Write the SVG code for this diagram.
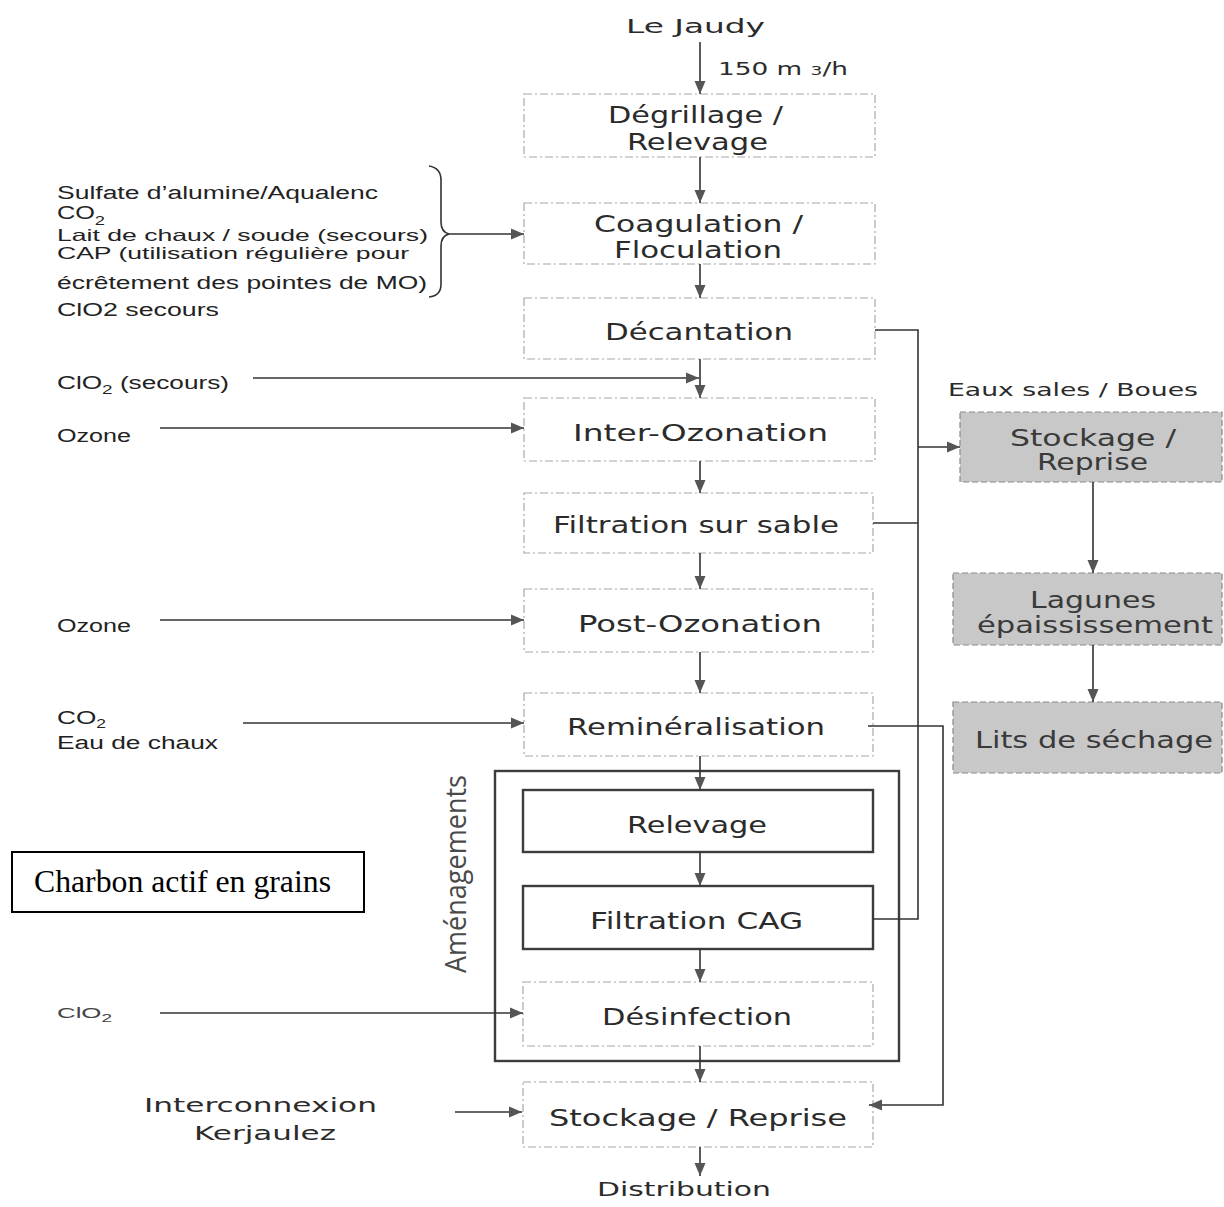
<svg xmlns="http://www.w3.org/2000/svg" width="1224" height="1207" viewBox="0 0 1224 1207">
<style>
.bx{font-family:"DejaVu Sans",Verdana,sans-serif;font-size:23px;fill:#2b2b2b}
.sm{font-family:"DejaVu Sans",Verdana,sans-serif;font-size:20px;fill:#2b2b2b}
.lt{font-family:"Liberation Sans",Arial,sans-serif;font-size:18px;fill:#222}
.dot{fill:#fff;stroke:#a8a8a8;stroke-width:1.2;stroke-dasharray:8 3 2 3}
.solid{fill:none;stroke:#3c3c3c;stroke-width:2.4}
.grey{fill:#c8c8c8;stroke:#8a8a8a;stroke-width:1.2;stroke-dasharray:6 3}
.gt{font-family:"DejaVu Sans",Verdana,sans-serif;font-size:23px;fill:#3a3a3a}
.ln{fill:none;stroke:#333;stroke-width:1.6}
</style>
<defs>
<marker id="ah" viewBox="0 0 13 12" refX="13" refY="6" markerWidth="13" markerHeight="12" markerUnits="userSpaceOnUse" orient="auto">
<path d="M0,0.5 L13,6 L0,11.5 Z" fill="#555"/>
</marker>
</defs>
<rect width="1224" height="1207" fill="#fff"/>

<g id="title">
<text class="sm" x="626" y="33" textLength="139" lengthAdjust="spacingAndGlyphs">Le Jaudy</text>
<text x="718" y="75" style="font-family:'DejaVu Sans',Verdana,sans-serif;font-size:17px;fill:#2b2b2b" textLength="130" lengthAdjust="spacingAndGlyphs">150 m <tspan font-size="12">3</tspan>/h</text>
</g>

<g id="degrillage">
<rect class="dot" x="524" y="94" width="351" height="63"/>
<text class="bx" x="608" y="123" textLength="175" lengthAdjust="spacingAndGlyphs">Dégrillage /</text>
<text class="bx" x="627" y="150" textLength="141" lengthAdjust="spacingAndGlyphs">Relevage</text>
</g>

<g id="coagulation">
<rect class="dot" x="524" y="203" width="351" height="61"/>
<text class="bx" x="594" y="232" textLength="209" lengthAdjust="spacingAndGlyphs">Coagulation /</text>
<text class="bx" x="614" y="258" textLength="168" lengthAdjust="spacingAndGlyphs">Floculation</text>
</g>

<g id="decantation">
<rect class="dot" x="524" y="298" width="351" height="61"/>
<text class="bx" x="605" y="340" textLength="188" lengthAdjust="spacingAndGlyphs">Décantation</text>
</g>

<g id="inter-ozonation">
<rect class="dot" x="524" y="398" width="351" height="63"/>
<text class="bx" x="573" y="441" textLength="255" lengthAdjust="spacingAndGlyphs">Inter-Ozonation</text>
</g>

<g id="filtration-sable">
<rect class="dot" x="524" y="493" width="349" height="60"/>
<text class="bx" x="553" y="533" textLength="286" lengthAdjust="spacingAndGlyphs">Filtration sur sable</text>
</g>

<g id="post-ozonation">
<rect class="dot" x="524" y="589" width="349" height="63"/>
<text class="bx" x="578" y="632" textLength="244" lengthAdjust="spacingAndGlyphs">Post-Ozonation</text>
</g>

<g id="remineralisation">
<rect class="dot" x="524" y="693" width="349" height="63"/>
<text class="bx" x="567" y="735" textLength="258" lengthAdjust="spacingAndGlyphs">Reminéralisation</text>
</g>

<g id="amenagements">
<rect class="solid" x="495" y="771" width="404" height="290"/>
<text transform="translate(466,874) rotate(-90)" x="0" y="0" text-anchor="middle" style="font-family:'Open Sans','Noto Sans',sans-serif;font-size:30px;fill:#4a4a4a" textLength="198" lengthAdjust="spacingAndGlyphs">Aménagements</text>
</g>

<g id="relevage">
<rect class="solid" x="523" y="790" width="350" height="62" fill="#fff"/>
<text class="bx" x="627" y="833" textLength="140" lengthAdjust="spacingAndGlyphs">Relevage</text>
</g>

<g id="filtration-cag">
<rect class="solid" x="523" y="886" width="350" height="63"/>
<text class="bx" x="590" y="929" textLength="213" lengthAdjust="spacingAndGlyphs">Filtration CAG</text>
</g>

<g id="desinfection">
<rect class="dot" x="523" y="982" width="350" height="64"/>
<text class="bx" x="602" y="1025" textLength="190" lengthAdjust="spacingAndGlyphs">Désinfection</text>
</g>

<g id="stockage-reprise">
<rect class="dot" x="523" y="1082" width="350" height="65"/>
<text class="bx" x="549" y="1126" textLength="298" lengthAdjust="spacingAndGlyphs">Stockage / Reprise</text>
</g>

<g id="distribution">
<text class="sm" x="597" y="1196" textLength="174" lengthAdjust="spacingAndGlyphs">Distribution</text>
</g>

<g id="reactifs-coagulation">
<text class="lt" x="57" y="199" textLength="321" lengthAdjust="spacingAndGlyphs">Sulfate d’alumine/Aqualenc</text>
<text class="lt" x="57" y="219" textLength="48" lengthAdjust="spacingAndGlyphs">CO<tspan font-size="13" dy="6">2</tspan></text>
<text class="lt" x="57" y="241" style="font-size:16.5px" textLength="371" lengthAdjust="spacingAndGlyphs">Lait de chaux / soude (secours)</text>
<text class="lt" x="57" y="259" style="font-size:16.5px" textLength="352" lengthAdjust="spacingAndGlyphs">CAP (utilisation régulière pour</text>
<text class="lt" x="57" y="289" textLength="370" lengthAdjust="spacingAndGlyphs">écrêtement des pointes de MO)</text>
<text class="lt" x="57" y="316" textLength="162" lengthAdjust="spacingAndGlyphs">ClO2 secours</text>
<path class="ln" d="M429,166 Q441,168 441,180 L441,222 Q441,232 449,234 Q441,236 441,246 L441,284 Q441,296 429,297"/>
</g>

<g id="clo2-secours">
<text class="lt" x="57" y="389" textLength="172" lengthAdjust="spacingAndGlyphs">ClO<tspan font-size="13" dy="5">2</tspan><tspan dy="-5"> (secours)</tspan></text>
</g>

<g id="ozone-1">
<text class="lt" x="57" y="442" textLength="74" lengthAdjust="spacingAndGlyphs">Ozone</text>
</g>

<g id="ozone-2">
<text class="lt" x="57" y="632" textLength="74" lengthAdjust="spacingAndGlyphs">Ozone</text>
</g>

<g id="co2-eau-chaux">
<text class="lt" x="57" y="724" textLength="49" lengthAdjust="spacingAndGlyphs">CO<tspan font-size="12" dy="4">2</tspan></text>
<text class="lt" x="57" y="749" textLength="161" lengthAdjust="spacingAndGlyphs">Eau de chaux</text>
</g>

<g id="clo2">
<text x="57" y="1018" style="font-family:'Liberation Sans',Arial,sans-serif;font-size:15px;fill:#444" textLength="55" lengthAdjust="spacingAndGlyphs">ClO<tspan font-size="11" dy="4">2</tspan></text>
</g>

<g id="interconnexion">
<text class="sm" x="144" y="1112" textLength="233" lengthAdjust="spacingAndGlyphs">Interconnexion</text>
<text class="sm" x="194" y="1140" textLength="142" lengthAdjust="spacingAndGlyphs">Kerjaulez</text>
</g>

<g id="charbon">
<rect x="12" y="852" width="352" height="60" fill="#fff" stroke="#000" stroke-width="2"/>
<text x="34" y="892" style="font-family:'Liberation Serif','Times New Roman',serif;font-size:31px;fill:#000" textLength="297" lengthAdjust="spacingAndGlyphs">Charbon actif en grains</text>
</g>

<g id="eaux-sales">
<text x="948" y="396" style="font-family:'DejaVu Sans',Verdana,sans-serif;font-size:17px;fill:#2b2b2b" textLength="250" lengthAdjust="spacingAndGlyphs">Eaux sales / Boues</text>
</g>

<g id="boues-stockage">
<rect class="grey" x="960" y="412" width="262" height="70"/>
<text class="gt" x="1010" y="446" textLength="166" lengthAdjust="spacingAndGlyphs">Stockage /</text>
<text class="gt" x="1037" y="470" textLength="111" lengthAdjust="spacingAndGlyphs">Reprise</text>
</g>

<g id="lagunes">
<rect class="grey" x="953" y="573" width="269" height="72"/>
<text class="gt" x="1030" y="608" textLength="126" lengthAdjust="spacingAndGlyphs">Lagunes</text>
<text class="gt" x="977" y="633" textLength="236" lengthAdjust="spacingAndGlyphs">épaississement</text>
</g>

<g id="lits-sechage">
<rect class="grey" x="953" y="702" width="269" height="71"/>
<text class="gt" x="975" y="748" textLength="238" lengthAdjust="spacingAndGlyphs">Lits de séchage</text>
</g>

<g id="connectors">
<path class="ln" marker-end="url(#ah)" d="M700,42 V94"/>
<path class="ln" marker-end="url(#ah)" d="M700,157 V203"/>
<path class="ln" marker-end="url(#ah)" d="M700,264 V298"/>
<path class="ln" marker-end="url(#ah)" d="M700,359 V398"/>
<path class="ln" marker-end="url(#ah)" d="M700,461 V493"/>
<path class="ln" marker-end="url(#ah)" d="M700,553 V589"/>
<path class="ln" marker-end="url(#ah)" d="M700,652 V693"/>
<path class="ln" marker-end="url(#ah)" d="M700,756 V790"/>
<path class="ln" marker-end="url(#ah)" d="M700,852 V886"/>
<path class="ln" marker-end="url(#ah)" d="M700,949 V982"/>
<path class="ln" marker-end="url(#ah)" d="M700,1046 V1082"/>
<path class="ln" marker-end="url(#ah)" d="M700,1147 V1176"/>
<path class="ln" marker-end="url(#ah)" d="M449,234 H524"/>
<path class="ln" marker-end="url(#ah)" d="M253,378 H699"/>
<path class="ln" marker-end="url(#ah)" d="M160,428 H524"/>
<path class="ln" marker-end="url(#ah)" d="M160,620 H524"/>
<path class="ln" marker-end="url(#ah)" d="M243,723 H524"/>
<path class="ln" marker-end="url(#ah)" d="M160,1013 H523"/>
<path class="ln" marker-end="url(#ah)" d="M455,1112 H522"/>
<path class="ln" d="M875,330 H918 V919 H873"/>
<path class="ln" marker-end="url(#ah)" d="M918,447 H960"/>
<path class="ln" d="M873,523 H918"/>
<path class="ln" marker-end="url(#ah)" d="M868,726 H943 V1105 H869"/>
<path class="ln" marker-end="url(#ah)" d="M1093,482 V573"/>
<path class="ln" marker-end="url(#ah)" d="M1093,645 V702"/>
</g>
</svg>
